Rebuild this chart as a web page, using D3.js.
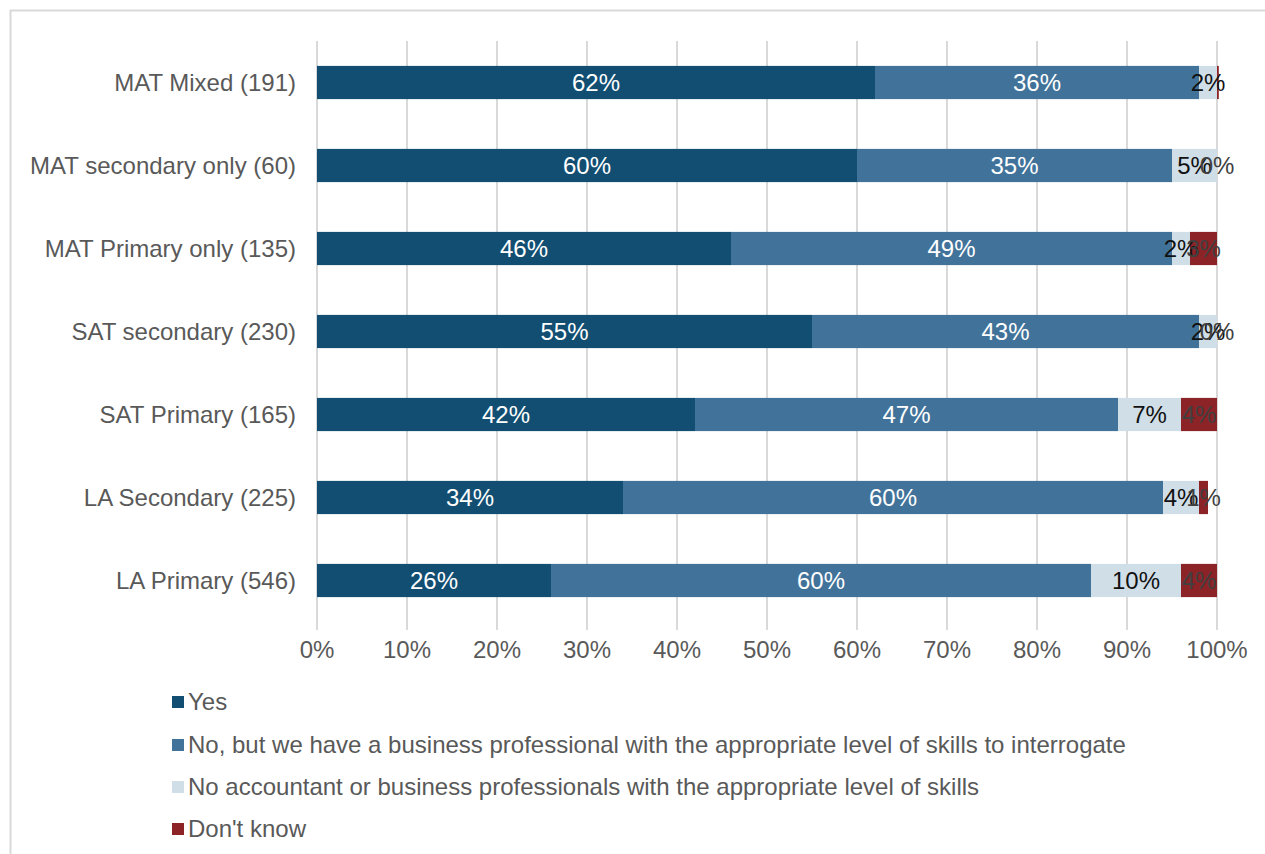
<!DOCTYPE html>
<html>
<head>
<meta charset="utf-8">
<script src="https://cdn.jsdelivr.net/npm/d3@7"></script>
<style>
  html, body { margin: 0; padding: 0; background: #fff; }
  svg { display: block; font-family: "Liberation Sans", Arial, sans-serif; }
</style>
</head>
<body>
<svg id="chart" width="1265" height="854"></svg>
<script>
// Survey groups, top to bottom
const categories = [
  "MAT Mixed (191)",
  "MAT secondary only (60)",
  "MAT Primary only (135)",
  "SAT secondary (230)",
  "SAT Primary (165)",
  "LA Secondary (225)",
  "LA Primary (546)"
];

const seriesNames = [
  "Yes",
  "No, but we have a business professional with the appropriate level of skills to interrogate",
  "No accountant or business professionals with the appropriate level of skills",
  "Don't know"
];

// Percentages per series, in the same order as categories
const yesValues      = [62, 60, 46, 55, 42, 34, 26];
const noButValues    = [36, 35, 49, 43, 47, 60, 60];
const noneValues     = [2, 5, 2, 2, 7, 4, 10];
const dontKnowValues = [0.2, 0, 3, 0, 4, 1, 4];
// Which segments carry a printed label (the smallest sliver has none)
const dontKnowLabelled = [false, true, true, true, true, true, true];

const xTicks = [0, 10, 20, 30, 40, 50, 60, 70, 80, 90, 100];

const colors = ["#114e72", "#41739a", "#d0dee8", "#8b2327"];
const labelColors = ["#ffffff", "#ffffff", "#111111", "#404040"];
const fontSize = 24;

const svg = d3.select("#chart");

// outer frame
svg.append("rect")
  .attr("x", 10.5).attr("y", 10.5)
  .attr("width", 1300).attr("height", 900)
  .attr("fill", "none").attr("stroke", "#d9d9d9").attr("stroke-width", 2);

const plot = { left: 317, right: 1217, top: 41, bottom: 622 };

const x = d3.scaleLinear().domain([0, 100]).range([plot.left, plot.right]);
const y = d3.scaleBand().domain(categories).range([plot.top, plot.bottom]).paddingInner(0.6).paddingOuter(0.3);

// vertical gridlines (extend below the plot as tick marks)
svg.append("g")
  .selectAll("line")
  .data(xTicks)
  .join("line")
  .attr("x1", d => x(d)).attr("x2", d => x(d))
  .attr("y1", plot.top).attr("y2", plot.bottom + 8)
  .attr("stroke", "#d9d9d9").attr("stroke-width", 2);

// tick labels
svg.append("g")
  .selectAll("text")
  .data(xTicks)
  .join("text")
  .attr("x", d => x(d))
  .attr("y", 650)
  .attr("dy", "0.35em")
  .attr("text-anchor", "middle")
  .attr("font-size", fontSize)
  .attr("fill", "#595959")
  .text(d => d + "%");

// category labels
svg.append("g")
  .selectAll("text")
  .data(categories)
  .join("text")
  .attr("x", 296)
  .attr("y", d => y(d) + y.bandwidth() / 2)
  .attr("dy", "0.35em")
  .attr("text-anchor", "end")
  .attr("font-size", fontSize)
  .attr("fill", "#595959")
  .text(d => d);

// stack the series
const rows = categories.map((c, i) => ({
  cat: c,
  s0: yesValues[i], s1: noButValues[i], s2: noneValues[i], s3: dontKnowValues[i], idx: i
}));
const stack = d3.stack().keys(["s0", "s1", "s2", "s3"])(rows);

const layers = svg.append("g")
  .selectAll("g")
  .data(stack)
  .join("g")
  .attr("fill", (d, i) => colors[i]);

layers.selectAll("rect")
  .data(d => d)
  .join("rect")
  .attr("x", d => x(d[0]))
  .attr("y", d => y(d.data.cat))
  .attr("width", d => Math.max(0, x(d[1]) - x(d[0])))
  .attr("height", y.bandwidth());

// value labels centered on each segment
const labelG = svg.append("g");
stack.forEach((layer, si) => {
  layer.forEach(d => {
    const v = d[1] - d[0];
    if (si === 3 && !dontKnowLabelled[d.data.idx]) return;
    labelG.append("text")
      .attr("x", (x(d[0]) + x(d[1])) / 2)
      .attr("y", y(d.data.cat) + y.bandwidth() / 2)
      .attr("dy", "0.35em")
      .attr("text-anchor", "middle")
      .attr("font-size", fontSize)
      .attr("fill", labelColors[si])
      .text(Math.round(v) + "%");
  });
});

// legend
const legendY = [702, 745, 787, 829];
const legend = svg.append("g")
  .selectAll("g")
  .data(seriesNames)
  .join("g")
  .attr("transform", (d, i) => `translate(172, ${legendY[i]})`);

legend.append("rect")
  .attr("x", 0).attr("y", -6)
  .attr("width", 12).attr("height", 12)
  .attr("fill", (d, i) => colors[i]);

legend.append("text")
  .attr("x", 16)
  .attr("y", 0)
  .attr("dy", "0.35em")
  .attr("font-size", fontSize)
  .attr("fill", "#595959")
  .text(d => d);
</script>
</body>
</html>
